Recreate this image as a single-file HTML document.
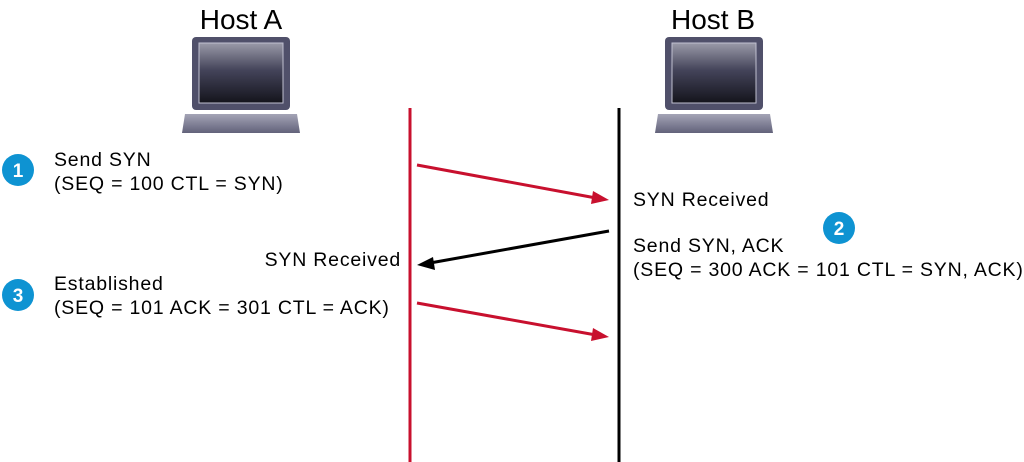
<!DOCTYPE html><html><head><style>body{margin:0;background:#fff}svg{display:block}text{font-family:"Liberation Sans",Arial,sans-serif;fill:#000}</style></head><body>
<svg width="1024" height="462" viewBox="0 0 1024 462" xmlns="http://www.w3.org/2000/svg">
<defs>
<linearGradient id="scr" x1="0" y1="0" x2="0" y2="1"><stop offset="0" stop-color="#9a9aa8"/><stop offset="0.45" stop-color="#44445a"/><stop offset="1" stop-color="#14141c"/></linearGradient>
<linearGradient id="kb" x1="0" y1="0" x2="0" y2="1"><stop offset="0" stop-color="#a4a4b6"/><stop offset="1" stop-color="#62627a"/></linearGradient>
<g id="lap">
<rect x="0" y="0" width="98" height="73" rx="4" fill="#50506a"/>
<rect x="7" y="6" width="84" height="60" fill="url(#scr)" stroke="#c0c0d0" stroke-width="1"/>
<polygon points="-7,77 105,77 108,96 -10,96" fill="url(#kb)"/>
</g>
</defs>
<text x="241" y="29" font-size="28" text-anchor="middle">Host A</text>
<text x="713" y="29" font-size="28" text-anchor="middle">Host B</text>
<use href="#lap" x="192" y="37"/>
<use href="#lap" x="665" y="37"/>
<line x1="410" y1="108" x2="410" y2="462" stroke="#c8102e" stroke-width="3"/>
<line x1="619" y1="108" x2="619" y2="462" stroke="#000" stroke-width="3"/>
<line x1="417" y1="165" x2="596" y2="198" stroke="#c8102e" stroke-width="3"/>
<polygon points="609,200 593,191 591,204" fill="#c8102e"/>
<line x1="609" y1="231" x2="430" y2="263" stroke="#000" stroke-width="3"/>
<polygon points="417,265 433,257 435,270" fill="#000"/>
<line x1="417" y1="303" x2="596" y2="335" stroke="#c8102e" stroke-width="3"/>
<polygon points="609,337 593,328 591,341" fill="#c8102e"/>
<circle cx="18" cy="170" r="16" fill="#0e93d2"/><text x="18" y="177" font-size="19" font-weight="bold" text-anchor="middle" style="fill:#fff">1</text>
<circle cx="18" cy="295" r="16" fill="#0e93d2"/><text x="18" y="302" font-size="19" font-weight="bold" text-anchor="middle" style="fill:#fff">3</text>
<circle cx="839" cy="228" r="16" fill="#0e93d2"/><text x="839" y="235" font-size="19" font-weight="bold" text-anchor="middle" style="fill:#fff">2</text>
<g font-size="19.5" letter-spacing="0.8">
<text x="54" y="166">Send SYN</text>
<text x="54" y="190">(SEQ = 100 CTL = SYN)</text>
<text x="401" y="266" text-anchor="end">SYN Received</text>
<text x="54" y="290">Established</text>
<text x="54" y="314">(SEQ = 101 ACK = 301 CTL = ACK)</text>
<text x="633" y="206">SYN Received</text>
<text x="633" y="252">Send SYN, ACK</text>
<text x="633" y="276">(SEQ = 300 ACK = 101 CTL = SYN, ACK)</text>
</g>
</svg></body></html>
